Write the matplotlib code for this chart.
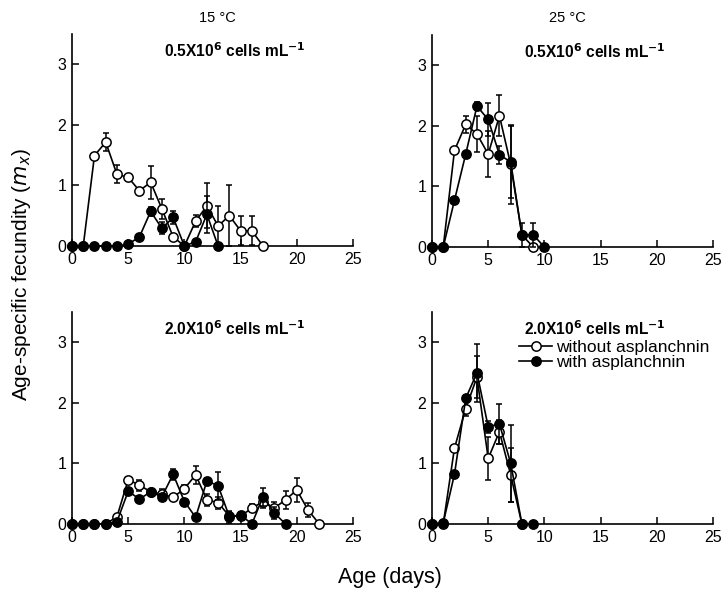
import matplotlib
matplotlib.use("Agg")
import matplotlib.pyplot as plt
from matplotlib.lines import Line2D

plt.rcParams['font.family'] = ['Liberation Sans', 'DejaVu Sans']

# 15 C, 0.5x10^6 cells/mL
days_tl_wo = list(range(0, 18))
without_tl = [0, 0, 1.49, 1.71, 1.18, 1.13, 0.91, 1.05, 0.61, 0.15, 0, 0.41, 0.66, 0.33, 0.50, 0.25, 0.25, 0]
without_tl_err = [0, 0, 0, 0.15, 0.15, 0, 0, 0.27, 0.17, 0, 0, 0.1, 0.37, 0.33, 0.5, 0.24, 0.24, 0]
days_tl_w = list(range(0, 14))
with_tl = [0, 0, 0, 0, 0, 0.03, 0.15, 0.57, 0.29, 0.47, 0, 0.07, 0.52, 0]
with_tl_err = [0, 0, 0, 0, 0, 0, 0, 0.07, 0.1, 0.1, 0, 0, 0.3, 0]

# 25 C, 0.5x10^6 cells/mL
days_tr_wo = list(range(0, 10))
without_tr = [0, 0, 1.59, 2.02, 1.86, 1.53, 2.16, 1.36, 0.2, 0]
without_tr_err = [0, 0, 0, 0.14, 0.3, 0.38, 0.34, 0.65, 0, 0]
days_tr_w = list(range(0, 11))
with_tr = [0, 0, 0.77, 1.53, 2.32, 2.10, 1.52, 1.40, 0.2, 0.2, 0]
with_tr_err = [0, 0, 0, 0, 0.07, 0.28, 0.15, 0.6, 0.2, 0.2, 0]

# 15 C, 2.0x10^6 cells/mL
days_bl_wo = list(range(0, 23))
without_bl = [0, 0, 0, 0, 0.12, 0.73, 0.64, 0.53, 0.49, 0.44, 0.58, 0.81, 0.40, 0.35, 0.13, 0.13,
              0.26, 0.37, 0.26, 0.40, 0.56, 0.23, 0]
without_bl_err = [0, 0, 0, 0, 0, 0.05, 0.09, 0, 0.08, 0, 0.06, 0.15, 0.1, 0.1, 0.07, 0.05,
                  0.07, 0.1, 0.1, 0.15, 0.19, 0.12, 0]
days_bl_w = list(range(0, 20))
with_bl = [0, 0, 0, 0, 0.04, 0.54, 0.41, 0.53, 0.45, 0.82, 0.37, 0.11, 0.71, 0.63, 0.12, 0.15,
           0, 0.45, 0.18, 0]
with_bl_err = [0, 0, 0, 0, 0, 0, 0.05, 0, 0.05, 0.09, 0.05, 0, 0.05, 0.23, 0.1, 0.05,
               0, 0.15, 0.1, 0]

# 25 C, 2.0x10^6 cells/mL
days_br_wo = list(range(0, 9))
without_br = [0, 0, 1.25, 1.90, 2.42, 1.08, 1.52, 0.81, 0]
without_br_err = [0, 0, 0, 0.12, 0.35, 0.35, 0.2, 0.45, 0]
days_br_w = list(range(0, 10))
with_br = [0, 0.02, 0.82, 2.07, 2.49, 1.60, 1.65, 1.0, 0, 0]
with_br_err = [0, 0, 0, 0.05, 0.48, 0.1, 0.33, 0.63, 0, 0]

W, H = 724, 590
fig = plt.figure(figsize=(W / 100, H / 100), dpi=100)


def make_ax(left, bottom):
    # pixel coords -> figure fractions
    return fig.add_axes([left / W, 1 - bottom / H, 281 / W, 212.5 / H])


def draw_panel(ax, dwo, ywo, ewo, dw, yw, ew, subtitle):
    ax.errorbar(dwo, ywo, yerr=ewo, color='black', lw=1.2, elinewidth=1.1, capsize=2.5,
                marker='o', ms=6.7, mfc='white', mec='black', mew=1.1, clip_on=False, zorder=3)
    ax.errorbar(dw, yw, yerr=ew, color='black', lw=1.2, elinewidth=1.1, capsize=2.5,
                marker='o', ms=6.7, mfc='black', mec='black', mew=1.1, clip_on=False, zorder=4)
    ax.set_xlim(0, 25)
    ax.set_ylim(0, 3.5)
    ax.set_xticks([0, 5, 10, 15, 20, 25])
    ax.set_yticks([0, 1, 2, 3])
    ax.spines['top'].set_visible(False)
    ax.spines['right'].set_visible(False)
    ax.spines['left'].set_linewidth(1.2)
    ax.spines['bottom'].set_linewidth(1.2)
    ax.tick_params(direction='in', length=5, width=1.1, labelsize=11.5, pad=4)
    ax.text(0.58, 0.92, subtitle, transform=ax.transAxes, ha='center', va='center',
            fontsize=11.2, fontweight='bold')


ax_tl = make_ax(72, 246)
ax_tr = make_ax(432, 247)
ax_bl = make_ax(72, 524)
ax_br = make_ax(432, 524)

sub05 = r'0.5X10$^{\mathbf{6}}$ cells mL$^{\mathbf{-1}}$'
sub20 = r'2.0X10$^{\mathbf{6}}$ cells mL$^{\mathbf{-1}}$'

draw_panel(ax_tl, days_tl_wo, without_tl, without_tl_err, days_tl_w, with_tl, with_tl_err, sub05)
draw_panel(ax_tr, days_tr_wo, without_tr, without_tr_err, days_tr_w, with_tr, with_tr_err, sub05)
draw_panel(ax_bl, days_bl_wo, without_bl, without_bl_err, days_bl_w, with_bl, with_bl_err, sub20)
draw_panel(ax_br, days_br_wo, without_br, without_br_err, days_br_w, with_br, with_br_err, sub20)

fig.text(217 / W, 1 - 18 / H, '15 \u00b0C', ha='center', va='center', fontsize=10.5)
fig.text(567 / W, 1 - 18 / H, '25 \u00b0C', ha='center', va='center', fontsize=10.5)

handles = [
    Line2D([], [], color='black', lw=1.2, marker='o', ms=6.7, mfc='white', mec='black', mew=1.1),
    Line2D([], [], color='black', lw=1.2, marker='o', ms=6.7, mfc='black', mec='black', mew=1.1),
]
ax_br.legend(handles, ['without asplanchnin', 'with asplanchnin'], loc='upper left',
             bbox_to_anchor=(0.31, 0.865), frameon=False, fontsize=12.5,
             handlelength=1.9, handletextpad=0.2, labelspacing=0.0, borderpad=0, borderaxespad=0)

fig.text(390 / W, 1 - 577 / H, 'Age (days)', ha='center', va='center', fontsize=15.5)
fig.text(22 / W, 1 - 274 / H, r'Age-specific fecundity ($\mathit{m_x}$)', ha='center', va='center',
         fontsize=15, rotation=90)

fig.savefig('out.png', dpi=100)
